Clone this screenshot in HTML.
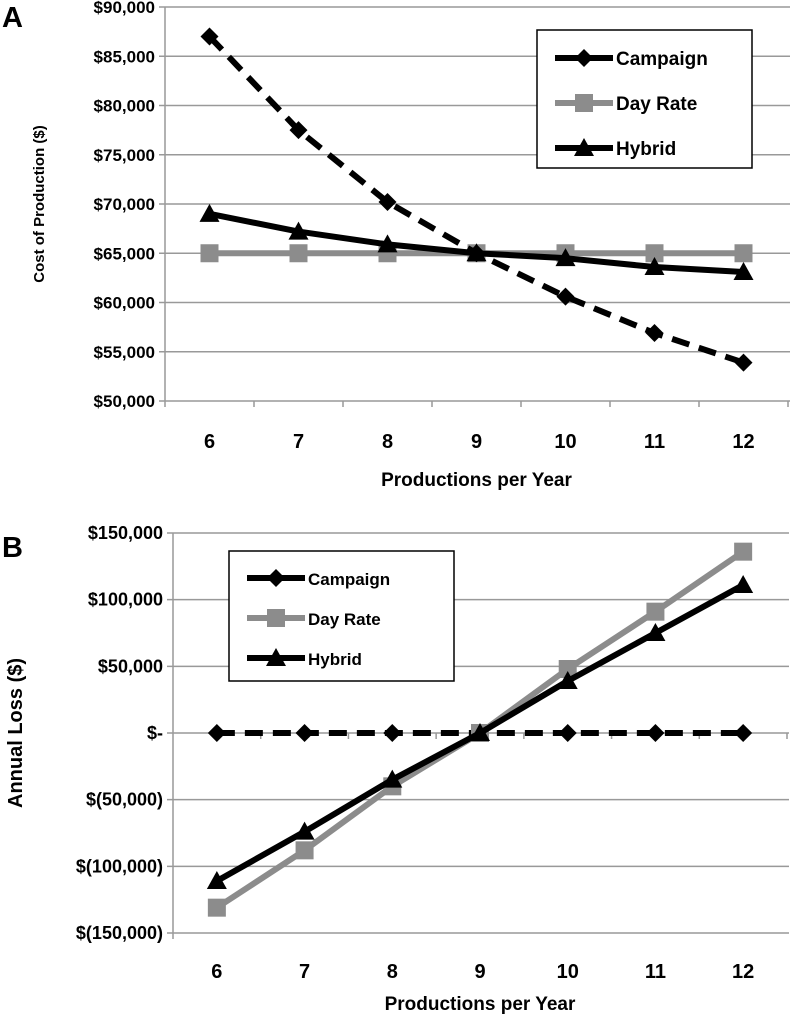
<!DOCTYPE html>
<html><head><meta charset="utf-8"><style>
html,body{margin:0;padding:0;background:#fff;}
svg{display:block;font-family:"Liberation Sans",sans-serif;font-weight:bold;}
</style></head><body>
<svg id="chart" width="792" height="1023" viewBox="0 0 792 1023" xmlns="http://www.w3.org/2000/svg"></svg>
<script>
const categories = [6,7,8,9,10,11,12];
const costCampaign = [87000,77500,70200,65000,60600,56900,53900];
const costDayRate = [65000,65000,65000,65000,65000,65000,65000];
const costHybrid = [69000,67200,65900,65000,64500,63600,63100];
const costTicks = [50000,55000,60000,65000,70000,75000,80000,85000,90000];
const costTickLabels = ["$50,000","$55,000","$60,000","$65,000","$70,000","$75,000","$80,000","$85,000","$90,000"];
const lossCampaign = [0,0,0,0,0,0,0];
const lossDayRate = [-131000,-88000,-40000,0,48000,91000,136000];
const lossHybrid = [-111000,-74000,-35000,0,39000,75000,111000];
const lossTicks = [-150000,-100000,-50000,0,50000,100000,150000];
const lossTickLabels = ["$(150,000)","$(100,000)","$(50,000)","$-","$50,000","$100,000","$150,000"];
const seriesNames = ["Campaign","Day Rate","Hybrid"];

const NS="http://www.w3.org/2000/svg";
const svg=document.getElementById('chart');
function el(tag,attrs,parent){const e=document.createElementNS(NS,tag);for(const k in attrs)e.setAttribute(k,attrs[k]);(parent||svg).appendChild(e);return e;}

function marker(g,type,x,y,color){
  let m;
  if(type==='diamond') m=el('polygon',{points:`${x},${y-9} ${x+9},${y} ${x},${y+9} ${x-9},${y}`,fill:color},g);
  else if(type==='square') m=el('rect',{x:x-9,y:y-9,width:18,height:18,fill:color},g);
  else m=el('polygon',{points:`${x},${y-10} ${x+10},${y+8} ${x-10},${y+8}`,fill:color},g);
  return m;
}

function drawChart(cfg){
  const g=el('g',{});
  
  
  const n=categories.length, w=(cfg.right-cfg.left)/n;
  const xs=i=>cfg.left+(i+0.5)*w;
  const ys=v=>cfg.bottom-(v-cfg.min)/(cfg.max-cfg.min)*(cfg.bottom-cfg.top);
  cfg.ticks.forEach((t,i)=>{
    const y=ys(t);
    const l=el('line',{x1:cfg.left-6,x2:cfg.right+2,y1:y,y2:y,stroke:'#999','stroke-width':1.5},g);
    
    
    const tx=el('text',{x:cfg.left-10,y:y+6,'text-anchor':'end','font-size':cfg.tickSize},g);
    tx.textContent=cfg.labels[i];
    
    
  });
  el('line',{x1:cfg.left,x2:cfg.left,y1:cfg.top,y2:cfg.bottom+6,stroke:'#999','stroke-width':1.5},g);
  const zy=ys(cfg.axisAt);
  for(let i=1;i<=n;i++) el('line',{x1:cfg.left+i*w,x2:cfg.left+i*w,y1:zy,y2:zy+6,stroke:'#999','stroke-width':1.5},g);
  categories.forEach((c,i)=>{
    const t=el('text',{x:xs(i),y:cfg.catY,'text-anchor':'middle','font-size':20},g);
    t.textContent=c;
    
    
  });
  const xt=el('text',{x:(cfg.left+cfg.right)/2,y:cfg.titleY,'text-anchor':'middle','font-size':19},g);
  xt.textContent='Productions per Year';
  
  
  const yt=el('text',{x:0,y:0,'text-anchor':'middle','font-size':cfg.yTitleSize,transform:`translate(${cfg.yTitleX},${(cfg.top+cfg.bottom)/2}) rotate(-90)`},g);
  yt.textContent=cfg.yTitle;
  
  
  const ser=[
    {d:cfg.data[0],color:'#000',dash:'18,10',m:'diamond'},
    {d:cfg.data[1],color:'#8c8c8c',dash:null,m:'square'},
    {d:cfg.data[2],color:'#000',dash:null,m:'triangle'}];
  cfg.order.forEach(k=>{
    const s=ser[k];
    const sg=el('g',{},g);
    
    
    const pts=s.d.map((v,i)=>`${xs(i)},${ys(v)}`).join(' ');
    const a={points:pts,fill:'none',stroke:s.color,'stroke-width':6,'stroke-linejoin':'round'};
    if(s.dash)a['stroke-dasharray']=s.dash;
    el('polyline',a,sg);
    s.d.forEach((v,i)=>{const m=marker(sg,s.m,xs(i),ys(v),s.color);
      
      });
  });
  const L=cfg.legend;
  const lg=el('g',{},g);
  
  
  el('rect',{x:L.x,y:L.y,width:L.w,height:L.h,fill:'#fff',stroke:'#000','stroke-width':1.5},lg);
  seriesNames.forEach((nm,k)=>{
    const eg=el('g',{},lg);
    
    
    const y=L.y+L.first+k*L.step, x1=L.x+L.pad, x2=x1+L.line;
    el('line',{x1:x1,x2:x2,y1:y,y2:y,stroke:ser[k].color,'stroke-width':6},eg);
    marker(eg,ser[k].m,(x1+x2)/2,y,ser[k].color);
    const t=el('text',{x:x2+3,y:y+7,'font-size':L.fs},eg);
    t.textContent=nm;
  });
}

const A=el('text',{x:2,y:27,'font-size':29});A.textContent='A';

const B=el('text',{x:2,y:557,'font-size':29});B.textContent='B';


drawChart({name:'chart-a-cost',left:165,right:788,top:7,bottom:401,min:50000,max:90000,axisAt:50000,
  ticks:costTicks,labels:costTickLabels,tickSize:17,catY:448,titleY:486,yTitle:'Cost of Production ($)',yTitleX:44,yTitleSize:15,
  data:[costCampaign,costDayRate,costHybrid],order:[1,2,0],
  legend:{x:537,y:30,w:215,h:138,pad:18,line:58,first:28,step:45,fs:19}});
drawChart({name:'chart-b-loss',left:173,right:787,top:533,bottom:933,min:-150000,max:150000,axisAt:0,
  ticks:lossTicks,labels:lossTickLabels,tickSize:18,catY:978,titleY:1010,yTitle:'Annual Loss ($)',yTitleX:22,yTitleSize:20,
  data:[lossCampaign,lossDayRate,lossHybrid],order:[0,1,2],
  legend:{x:229,y:551,w:225,h:130,pad:18,line:58,first:27,step:40,fs:17}});
</script>
</body></html>
